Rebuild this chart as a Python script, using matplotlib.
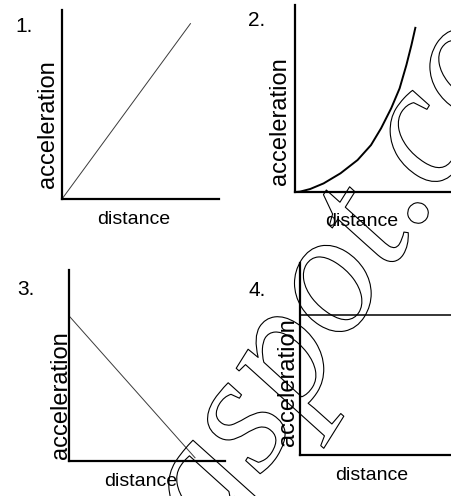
import matplotlib
matplotlib.use("Agg")
import matplotlib.pyplot as plt
import matplotlib.patheffects as pe

# ---- data (axis units 0..10) ----
panel_numbers = ["1.", "2.", "3.", "4."]
x_label = "distance"
y_label = "acceleration"

p1_x = [0.0, 8.2]
p1_y = [0.0, 9.3]

p2_x = [0.05, 0.32, 0.96, 1.81, 2.88, 3.96, 4.81, 5.45, 6.09, 6.62, 7.05, 7.37, 7.63]
p2_y = [0.0, 0.02, 0.16, 0.46, 1.00, 1.71, 2.51, 3.41, 4.48, 5.54, 6.79, 7.86, 8.83]

p3_x = [0.0, 8.1]
p3_y = [7.6, 0.15]

p4_x = [0.0, 10.0]
p4_y = [7.3, 7.3]

watermark = "gspot.co"

W, H = 451, 496
fig = plt.figure(figsize=(W / 100, H / 100), dpi=100)
fig.patch.set_facecolor("white")

def px_rect(left, right, top, bottom):
    return [left / W, (H - bottom) / H, (right - left) / W, (bottom - top) / H]

def fx(px):
    return px / W

def fy(py):
    return (H - py) / H

font = ["Liberation Sans", "DejaVu Sans"]

panels = [
    dict(rect=px_rect(62, 219, 10, 199), x=p1_x, y=p1_y, lw=0.7, color="#3a3a3a",
         num=(15, 32), ylab=(48, 124), xlab=(134, 220)),
    dict(rect=px_rect(295, 453, 5, 192), x=p2_x, y=p2_y, lw=1.4, color="black",
         num=(248, 26), ylab=(280, 121), xlab=(362, 221)),
    dict(rect=px_rect(69, 225, 270, 461), x=p3_x, y=p3_y, lw=0.7, color="#3a3a3a",
         num=(17, 295), ylab=(61, 395), xlab=(141, 481)),
    dict(rect=px_rect(300, 453, 263, 455), x=p4_x, y=p4_y, lw=1.1, color="black",
         num=(248, 296), ylab=(288, 382), xlab=(372, 475)),
]

for i, p in enumerate(panels):
    ax = fig.add_axes(p["rect"])
    ax.plot(p["x"], p["y"], color=p["color"], lw=p["lw"], solid_capstyle="butt")
    ax.set_xlim(0, 10)
    ax.set_ylim(0, 10)
    ax.set_xticks([])
    ax.set_yticks([])
    for s in ["top", "right"]:
        ax.spines[s].set_visible(False)
    for s in ["left", "bottom"]:
        ax.spines[s].set_linewidth(1.6)
        ax.spines[s].set_color("black")
    ax.patch.set_alpha(0)
    fig.text(fx(p["num"][0]), fy(p["num"][1]), panel_numbers[i], ha="left",
             va="baseline", fontsize=15, family=font)
    fig.text(fx(p["ylab"][0]), fy(p["ylab"][1]), y_label, rotation=90,
             ha="center", va="center", fontsize=17, family=font)
    fig.text(fx(p["xlab"][0]), fy(p["xlab"][1]), x_label,
             ha="center", va="center", fontsize=14, family=font)

# outlined watermark
fig.text(fx(216), fy(551), watermark, rotation=58, rotation_mode="anchor",
         ha="left", va="baseline", fontsize=125, color="none",
         family=["Liberation Serif", "DejaVu Serif"], style="italic",
         path_effects=[pe.withStroke(linewidth=0.8, foreground="black")])

fig.savefig("out.png", dpi=100, facecolor="white")
